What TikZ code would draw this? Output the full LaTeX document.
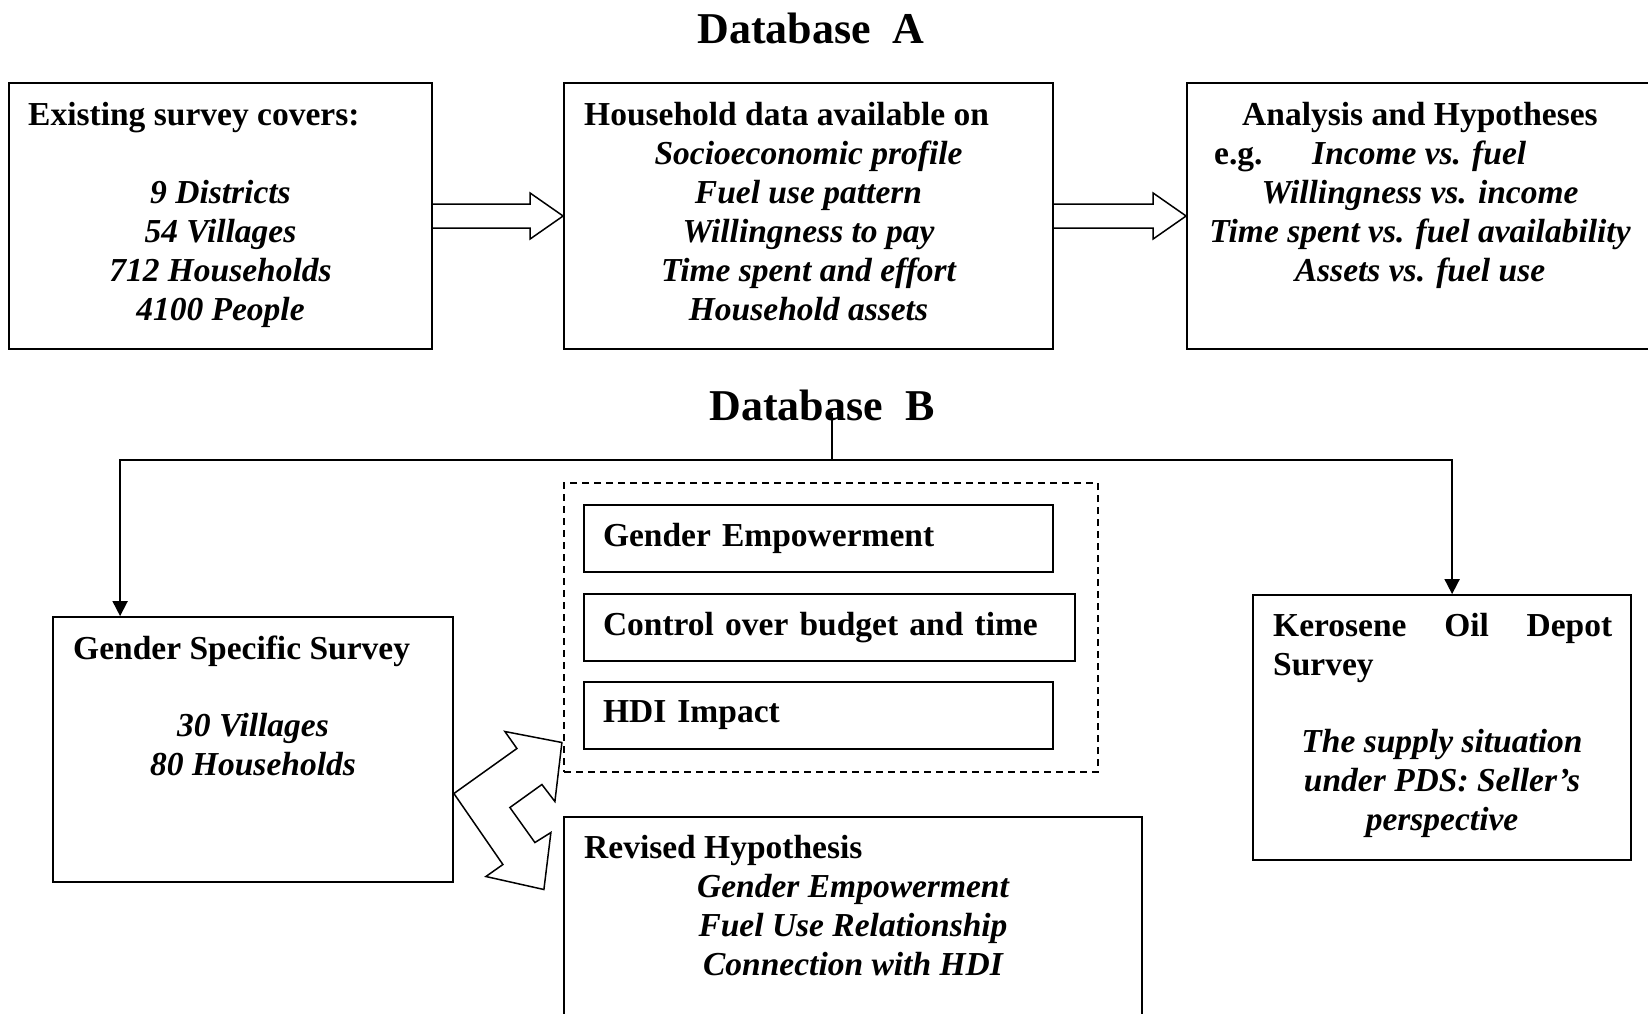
\documentclass[tikz,border=0pt]{standalone}
\usepackage{fontspec}
\setmainfont{Liberation Serif}
\usetikzlibrary{arrows.meta, calc}

\tikzset{
  box/.style={draw, black, line width=1.8, inner sep=0},
  group/.style={draw, black, line width=1.4, dash pattern=on 7pt off 5pt, inner sep=0},
  head/.style={inner sep=0, font=\fontsize{33.5}{39}\selectfont\bfseries},
  item/.style={inner sep=0, align=center, font=\fontsize{33.5}{39}\selectfont\bfseries\itshape},
  title/.style={inner sep=0, font=\fontsize{44}{50}\selectfont\bfseries},
  factor/.style={box, head, minimum height=67, align=left},
  hollow/.style={draw, black, line width=1.5, line join=miter},
  wire/.style={black, line width=1.8},
  feed/.style={wire, -{Triangle[width=15pt, length=15pt]}}
}

\begin{document}
\begin{tikzpicture}[x=1pt, y=-1pt]

\path[use as bounding box, clip] (0,0) rectangle (1648,1013);

\node[title, anchor=base] (dbA) at (811,43) {Database\enspace A};

\node[box, minimum width=423, minimum height=266] (survey) at (220.5,216) {};
\node[head, anchor=base west] (survey head) at (28,125) {Existing survey covers:};
\node[item, anchor=base] (survey list) at (220.5,320) {9 Districts\\54 Villages\\712 Households\\4100 People};

\node[box, minimum width=489, minimum height=266] (household) at (808.5,216) {};
\node[head, anchor=base west] (household head) at (584,125) {Household data available on};
\node[item, anchor=base] (household list) at (808.5,320)
{Socioeconomic profile\\Fuel use pattern\\Willingness to pay\\Time spent and effort\\Household assets};

\node[box, minimum width=466, minimum height=266] (analysis) at (1420,216) {};
\node[head, anchor=base] (analysis head) at (1420,125) {Analysis and Hypotheses};
\node[head, anchor=base west] (eg) at (1214,164) {e.g.};
\node[item, anchor=base west] (income) at (1312,164) {Income vs. fuel};
\node[item, anchor=base] (analysis list) at (1420,281)
{Willingness vs. income\\Time spent vs. fuel availability\\Assets vs. fuel use};

\draw[hollow] ($(survey.east)+(0,-12)$) -- ($(household.west)+(-33,-12)$) -- ($(household.west)+(-33,-23)$)
-- (household.west) -- ($(household.west)+(-33,23)$) -- ($(household.west)+(-33,12)$) -- ($(survey.east)+(0,12)$);

\draw[hollow] ($(household.east)+(0,-12)$) -- ($(analysis.west)+(-33,-12)$) -- ($(analysis.west)+(-33,-23)$)
-- (analysis.west) -- ($(analysis.west)+(-33,23)$) -- ($(analysis.west)+(-33,12)$) -- ($(household.east)+(0,12)$);

\node[title, anchor=base] (dbB) at (822,420) {Database\enspace B};

\node[box, minimum width=400, minimum height=265] (gender) at (253,749.5) {};
\node[head, anchor=base west] (gender head) at (73,659) {Gender Specific Survey};
\node[item, anchor=base] (gender list) at (253,775) {30 Villages\\80 Households};

\node[box, minimum width=378, minimum height=265] (kerosene) at (1442,727.5) {};
\node[head, anchor=base west, text width=339, align=left] (kerosene head) at (1273,636)
{Kerosene\hfill Oil\hfill Depot\\Survey};
\node[item, anchor=base] (kerosene list) at (1442,830)
{The supply situation\\under PDS: Seller's\\perspective};

\coordinate (fork) at (832,460);
\draw[wire] ($(dbB.base)+(10,-7)$) -- (fork);
\draw[feed] (fork) -| ($(gender.north west)+(68,0)$);
\draw[feed] (fork) -| ($(kerosene.north west)+(200,0)$);

\node[group, minimum width=534, minimum height=289] (factors) at (831,627.5) {};
\node[factor, minimum width=469, text width=431] (empower) at (818.5,538.5) {Gender Empowerment};
\node[factor, minimum width=491, text width=453] (budget) at (829.5,627.5) {Control over budget and time};
\node[factor, minimum width=469, text width=431] (hdi) at (818.5,715.5) {HDI Impact};

\node[box, minimum width=578, minimum height=213] (revised) at (853,923.5) {};
\node[head, anchor=base west] (revised head) at (584,858) {Revised Hypothesis};
\node[item, anchor=base] (revised list) at (853,975)
{Gender Empowerment\\Fuel Use Relationship\\Connection with HDI};

\draw[hollow] ($(gender.east)+(0,44)$) -- ++(63,-45) -- ++(-12,-17) -- ++(57,11) -- ++(-7,59)
-- ++(-13,-17) -- ++(-32,23) -- ++(25,35) -- ++(16,-10) -- ++(-7,57) -- ++(-58,-13) -- ++(17,-12) -- cycle;

\end{tikzpicture}
\end{document}
